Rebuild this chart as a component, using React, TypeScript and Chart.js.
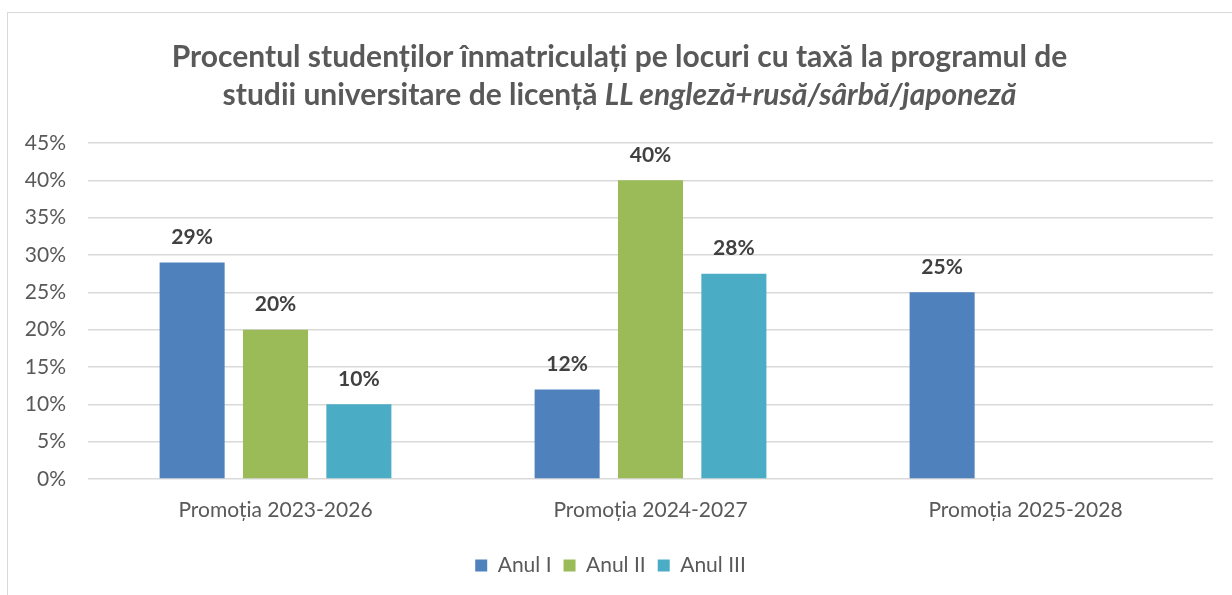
import React, { useEffect, useRef } from "react";
import { Chart, registerables } from "chart.js";

Chart.register(...registerables);

const categories = ["Promoția 2023-2026", "Promoția 2024-2027", "Promoția 2025-2028"];
const seriesNames = ["Anul I", "Anul II", "Anul III"];
const anulI = [29, 12, 25];
const anulII = [20, 40, null];
const anulIII = [10, 27.5, null];
const yTicks = [0, 5, 10, 15, 20, 25, 30, 35, 40, 45];
const colors = ["#4f81bd", "#9bbb59", "#4bacc6"];

const FONT = "Lato, 'Noto Sans', sans-serif";

const valueLabels = {
  id: "valueLabels",
  afterDatasetsDraw(chart: any) {
    const ctx = chart.ctx;
    ctx.save();
    ctx.font = `bold 21px ${FONT}`;
    ctx.fillStyle = "#404040";
    ctx.textAlign = "center";
    ctx.textBaseline = "middle";
    chart.data.datasets.forEach((ds: any, i: number) => {
      const meta = chart.getDatasetMeta(i);
      meta.data.forEach((bar: any, j: number) => {
        const v = ds.data[j];
        if (v === null || v === undefined) return;
        ctx.fillText(Math.round(v) + "%", bar.x, bar.y - 25);
      });
    });
    ctx.restore();
  },
};

export default function App() {
  const ref = useRef<HTMLCanvasElement>(null);
  useEffect(() => {
    document.body.style.margin = "0";
    const chart = new Chart(ref.current!, {
      type: "bar",
      data: {
        labels: categories,
        datasets: [anulI, anulII, anulIII].map((d, i) => ({
          label: seriesNames[i],
          data: d,
          backgroundColor: colors[i],
          categoryPercentage: 0.667,
          barPercentage: 0.78,
        })),
      },
      options: {
        animation: false,
        responsive: false,
        layout: { padding: { left: 8, right: 19, top: 143, bottom: 9 } },
        plugins: {
          title: { display: false },
          tooltip: { enabled: false },
          legend: {
            position: "bottom",
            labels: {
              boxWidth: 12,
              boxHeight: 12,
              padding: 12,
              color: "#595959",
              font: { size: 21, family: FONT },
            },
          },
        },
        scales: {
          x: {
            grid: { display: false, drawTicks: false },
            border: { display: false },
            ticks: { color: "#595959", font: { size: 21, family: FONT }, padding: 19 },
            afterFit(scale: any) {
              scale.height = 64;
            },
          },
          y: {
            min: 0,
            max: 45,
            afterBuildTicks(scale: any) {
              scale.ticks = yTicks.map((v) => ({ value: v }));
            },
            grid: { color: "#d9d9d9", lineWidth: 1.5, drawTicks: false },
            border: { display: false },
            ticks: {
              color: "#595959",
              font: { size: 21, family: FONT },
              padding: 22,
              callback: (v: any) => v + "%",
            },
            afterFit(scale: any) {
              scale.width = 80;
            },
          },
        },
      },
      plugins: [valueLabels],
    } as any);
    return () => chart.destroy();
  }, []);

  return (
    <div style={{ position: "relative", width: 1232, height: 595, background: "#fff", overflow: "hidden" }}>
      <div
        style={{
          position: "absolute",
          left: 7,
          top: 12,
          width: 1240,
          height: 600,
          borderLeft: "1.5px solid #d9d9d9",
          borderTop: "1.5px solid #d9d9d9",
        }}
      />
      <canvas ref={ref} width={1232} height={595} style={{ position: "absolute", left: 0, top: 0 }} />
      <div
        style={{
          position: "absolute",
          left: 7,
          width: 1225,
          top: 36,
          textAlign: "center",
          fontFamily: FONT,
          fontWeight: "bold",
          fontSize: 30,
          lineHeight: "38px",
          color: "#595959",
        }}
      >
        Procentul studenților înmatriculați pe locuri cu taxă la programul de
        <br />
        studii universitare de licență <i>LL engleză+rusă/sârbă/japoneză</i>
      </div>
    </div>
  );
}
